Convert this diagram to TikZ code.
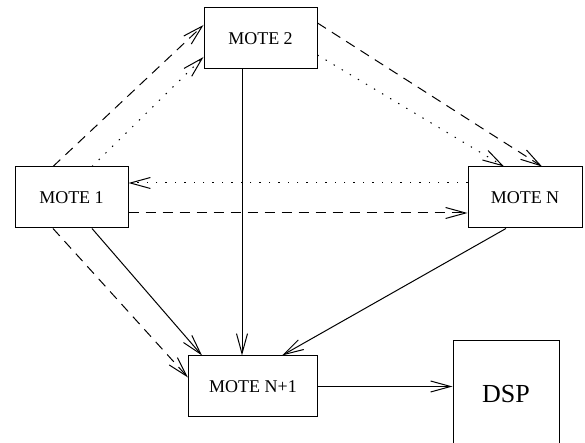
\documentclass[tikz,border=0pt]{standalone}
\usepackage{fontspec}
\setmainfont{Liberation Serif}
\usetikzlibrary{arrows.meta}

\tikzset{
  mote/.style={draw, line width=0.5pt, minimum width=56.5pt, minimum height=30.5pt,
    inner sep=0pt, font=\fontsize{9}{11}\selectfont},
  flow/.style={line width=0.5pt, -{Straight Barb[length=10pt, width=5.5pt, line width=0.5pt]}},
  dashflow/.style={flow, dash pattern=on 5pt off 3.5pt},
  dotflow/.style={flow, dash pattern=on 0.7pt off 4pt}
}

\begin{document}
\begin{tikzpicture}[x=0.5pt, y=-0.5pt]
    % page frame
    \useasboundingbox (0,0) rectangle (585,443);
    \clip (0,0) rectangle (585,443);

    % Define the motes and the DSP
    \node[mote] (m1) at (71.5,197.5) {MOTE 1};
    \node[mote] (m2) at (260.5,38.5) {MOTE 2};
    \node[mote, minimum width=57pt] (mN) at (525,197.5) {MOTE N};
    \node[mote, minimum width=64.5pt, minimum height=30.5pt] (mN1) at (253,386.5) {MOTE N+1};
    \node[mote, minimum width=53pt, minimum height=53pt,
          font=\fontsize{13}{15}\selectfont] (dsp) at (506,394) {DSP};

    % MOTE 1 to MOTE 2
    \draw[dashflow] ([xshift=-9.25pt]m1.north) -- ([yshift=6.75pt]m2.west);
    \draw[dotflow] ([xshift=10.25pt]m1.north) -- ([yshift=-9.25pt]m2.west);

    % MOTE 2 to MOTE N
    \draw[dashflow] ([yshift=7.75pt]m2.east) -- ([xshift=8.5pt]mN.north);
    \draw[dotflow] ([yshift=-8.25pt]m2.east) -- ([xshift=-10.5pt]mN.north);

    % between MOTE 1 and MOTE N
    \draw[dotflow] ([yshift=7.25pt]mN.west) -- ([yshift=7.25pt]m1.east);
    \draw[dashflow] ([yshift=-7.75pt]m1.east) -- ([yshift=-7.75pt]mN.west);

    % everything into MOTE N+1
    \draw[flow] ([xshift=-9.25pt]m2.south) -- ([xshift=-9.25pt]m2.south |- mN1.north);
    \draw[flow] ([xshift=10.25pt]m1.south) -- ([xshift=-25.5pt]mN1.north);
    \draw[dashflow] ([xshift=-9.25pt]m1.south) -- ([yshift=4.5pt]mN1.west);
    \draw[flow] ([xshift=-9.5pt]mN.south) -- ([xshift=14.5pt]mN1.north);

    % MOTE N+1 to DSP
    \draw[flow] (mN1.east) -- (mN1.east -| dsp.west);
\end{tikzpicture}
\end{document}
